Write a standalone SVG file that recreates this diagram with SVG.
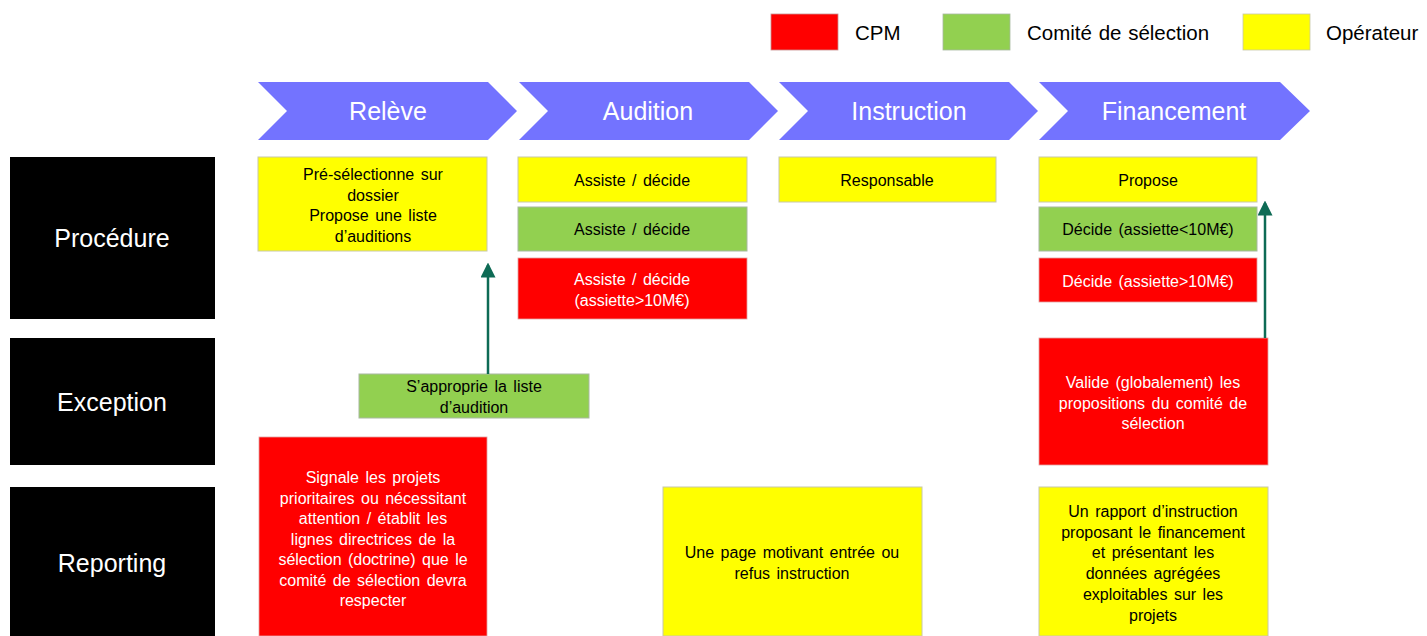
<svg xmlns="http://www.w3.org/2000/svg" width="1427" height="636" viewBox="0 0 1427 636">
<style>
text{font-family:"Liberation Sans",Arial,sans-serif;}
.chev{fill:#7373FF;}
.chevt{fill:#fff;font-size:25px;text-anchor:middle;}
.lab{fill:#000;}
.labt{fill:#fff;font-size:25px;text-anchor:middle;}
.y{fill:#FFFF00;stroke:#C8C8A8;stroke-width:1;}
.g{fill:#92D050;stroke:#A8B8A0;stroke-width:1;}
.r{fill:#FF0000;stroke:#E0A0A0;stroke-width:0.8;}
.bt{font-size:16px;text-anchor:middle;fill:#000;word-spacing:2px;}
.wt{font-size:16px;text-anchor:middle;fill:#fff;word-spacing:2px;}
.legt{font-size:20.5px;fill:#000;word-spacing:1px;}
.conn{stroke:#0E6B55;stroke-width:2.5;fill:none;}
</style>
<defs>
<marker id="ah" markerWidth="6" markerHeight="6" refX="5" refY="3" orient="auto" markerUnits="strokeWidth">
<path d="M0,0 L6,3 L0,6 Z" fill="#0E6B55"/>
</marker>
</defs>
<rect width="1427" height="636" fill="#fff"/>

<g id="legend">
<rect x="771" y="14" width="67" height="36" fill="#FF0000" stroke="#C89090" stroke-width="0.8"/>
<text class="legt" x="855" y="40">CPM</text>
<rect x="943" y="14" width="67" height="36" fill="#92D050" stroke="#A8B8A0" stroke-width="0.8"/>
<text class="legt" x="1027" y="40">Comité de sélection</text>
<rect x="1243" y="14" width="67" height="36" fill="#FFFF00" stroke="#C8C8A8" stroke-width="0.8"/>
<text class="legt" x="1326" y="40">Opérateur</text>
</g>

<g id="phase-releve">
<polygon class="chev" points="258,82 488,82 517,111 488,140 258,140 287,111"/>
<text class="chevt" x="388" y="120">Relève</text>
</g>
<g id="phase-audition">
<polygon class="chev" points="519,82 749,82 778,111 749,140 519,140 548,111"/>
<text class="chevt" x="648" y="120">Audition</text>
</g>
<g id="phase-instruction">
<polygon class="chev" points="779,82 1009,82 1038,111 1009,140 779,140 808,111"/>
<text class="chevt" x="909" y="120">Instruction</text>
</g>
<g id="phase-financement">
<polygon class="chev" points="1039,82 1280,82 1310,111 1280,140 1039,140 1068,111"/>
<text class="chevt" x="1174" y="120">Financement</text>
</g>

<g id="row-procedure">
<rect class="lab" x="10" y="157" width="205" height="162"/>
<text class="labt" x="112" y="247">Procédure</text>
</g>
<g id="row-exception">
<rect class="lab" x="10" y="338" width="205" height="127"/>
<text class="labt" x="112" y="411">Exception</text>
</g>
<g id="row-reporting">
<rect class="lab" x="10" y="487" width="205" height="149"/>
<text class="labt" x="112" y="572">Reporting</text>
</g>

<g id="releve-procedure">
<rect class="y" x="258" y="157" width="229" height="94"/>
<text class="bt" x="373" y="180"><tspan x="373">Pré-sélectionne sur</tspan><tspan x="373" dy="20.7">dossier</tspan><tspan x="373" dy="20.7">Propose une liste</tspan><tspan x="373" dy="20.7">d’auditions</tspan></text>
</g>
<g id="releve-exception">
<rect class="g" x="359" y="374" width="230" height="44"/>
<text class="bt" x="474" y="392"><tspan x="474">S’approprie la liste</tspan><tspan x="474" dy="20.7">d’audition</tspan></text>
</g>
<g id="releve-reporting">
<rect class="r" x="259" y="437" width="228" height="199"/>
<text class="wt" x="373" y="483"><tspan x="373">Signale les projets</tspan><tspan x="373" dy="20.5">prioritaires ou nécessitant</tspan><tspan x="373" dy="20.5">attention / établit les</tspan><tspan x="373" dy="20.5">lignes directrices de la</tspan><tspan x="373" dy="20.5">sélection (doctrine) que le</tspan><tspan x="373" dy="20.5">comité de sélection devra</tspan><tspan x="373" dy="20.5">respecter</tspan></text>
</g>

<g id="audition-operateur">
<rect class="y" x="518" y="157" width="229" height="45"/>
<text class="bt" x="632" y="186">Assiste / décide</text>
</g>
<g id="audition-comite">
<rect class="g" x="518" y="207" width="229" height="44"/>
<text class="bt" x="632" y="235">Assiste / décide</text>
</g>
<g id="audition-cpm">
<rect class="r" x="518" y="258" width="229" height="61"/>
<text class="wt" x="632" y="285"><tspan x="632">Assiste / décide</tspan><tspan x="632" dy="20.7">(assiette&gt;10M€)</tspan></text>
</g>

<g id="instruction-procedure">
<rect class="y" x="779" y="157" width="217" height="45"/>
<text class="bt" x="887" y="186">Responsable</text>
</g>
<g id="instruction-reporting">
<rect class="y" x="663" y="487" width="259" height="149"/>
<text class="bt" x="792" y="558"><tspan x="792">Une page motivant entrée ou</tspan><tspan x="792" dy="20.7">refus instruction</tspan></text>
</g>

<g id="financement-operateur">
<rect class="y" x="1039" y="157" width="218" height="45"/>
<text class="bt" x="1148" y="186">Propose</text>
</g>
<g id="financement-comite">
<rect class="g" x="1039" y="207" width="218" height="44"/>
<text class="bt" x="1148" y="235">Décide (assiette&lt;10M€)</text>
</g>
<g id="financement-cpm">
<rect class="r" x="1039" y="258" width="218" height="44"/>
<text class="wt" x="1148" y="287">Décide (assiette&gt;10M€)</text>
</g>
<g id="financement-exception">
<rect class="r" x="1039" y="338" width="229" height="127"/>
<text class="wt" x="1153" y="388"><tspan x="1153">Valide (globalement) les</tspan><tspan x="1153" dy="20.7">propositions du comité de</tspan><tspan x="1153" dy="20.7">sélection</tspan></text>
</g>
<g id="financement-reporting">
<rect class="y" x="1039" y="487" width="229" height="149"/>
<text class="bt" x="1153" y="517"><tspan x="1153">Un rapport d’instruction</tspan><tspan x="1153" dy="20.7">proposant le financement</tspan><tspan x="1153" dy="20.7">et présentant les</tspan><tspan x="1153" dy="20.7">données agrégées</tspan><tspan x="1153" dy="20.7">exploitables sur les</tspan><tspan x="1153" dy="20.7">projets</tspan></text>
</g>

<g id="connectors">
<line class="conn" x1="488" y1="374" x2="488" y2="265" marker-end="url(#ah)"/>
<line class="conn" x1="1265" y1="338" x2="1265" y2="203" marker-end="url(#ah)"/>
</g>
</svg>
